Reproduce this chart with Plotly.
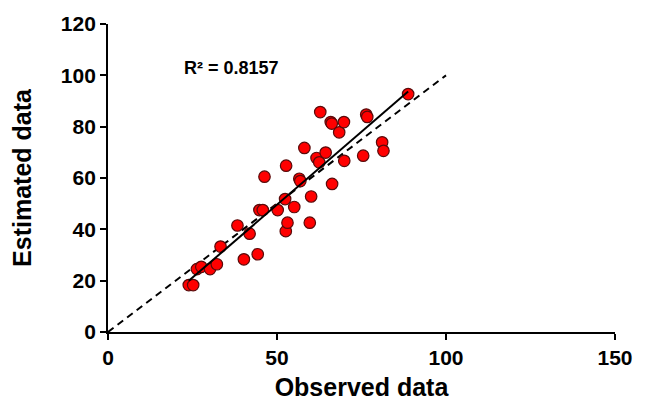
import numpy as np
import plotly.graph_objects as go

# Observed vs. estimated values
observed = [23.9, 25.2, 26.3, 27.6, 30.2, 32.2, 33.3, 38.3, 40.2, 41.9,
            44.3, 44.8, 45.8, 46.3, 50.2, 52.4, 52.6, 53.1, 55.1, 52.7,
            56.6, 56.9, 58.1, 59.7, 60.1, 61.7, 62.5, 62.8, 64.4, 65.9,
            66.2, 66.3, 68.4, 69.8, 69.9, 75.5, 76.4, 76.7, 81.1, 81.5,
            88.8]
estimated = [18.3, 18.3, 24.5, 25.4, 24.5, 26.4, 33.3, 41.5, 28.3, 38.3,
             30.3, 47.5, 47.5, 60.5, 47.5, 51.8, 39.3, 42.6, 48.7, 64.8,
             59.7, 58.8, 71.7, 42.6, 52.8, 67.8, 66.1, 85.7, 69.9, 81.8,
             81.2, 57.7, 77.8, 81.8, 66.7, 68.7, 84.7, 83.8, 73.9, 70.6,
             92.7]

one_to_one = [0, 100]
r2_label = "R² = 0.8157"

x_ticks = [0, 50, 100, 150]
y_ticks = [0, 20, 40, 60, 80, 100, 120]

# Least-squares trend line over the observed range
slope, intercept = np.polyfit(observed, estimated, 1)
trend_x = [min(observed), max(observed)]
trend_y = [slope * v + intercept for v in trend_x]

font_family = "Liberation Sans, Arial, sans-serif"

fig = go.Figure()

fig.add_trace(go.Scatter(
    x=one_to_one, y=one_to_one, mode="lines",
    line=dict(color="black", width=2, dash="7px,5px"),
    hoverinfo="skip", showlegend=False,
))

fig.add_trace(go.Scatter(
    x=observed, y=estimated, mode="markers",
    marker=dict(size=11.5, color="#ff0000",
                line=dict(color="#5a0a0a", width=1.2)),
    showlegend=False, cliponaxis=False,
))

fig.add_trace(go.Scatter(
    x=trend_x, y=trend_y, mode="lines",
    line=dict(color="black", width=2),
    hoverinfo="skip", showlegend=False,
))

fig.add_annotation(
    x=36.5, y=103, xref="x", yref="y", text=r2_label, showarrow=False,
    font=dict(family=font_family, size=18, color="black", weight="bold"),
)

axis_common = dict(
    showgrid=False, zeroline=False, showline=True,
    linecolor="black", linewidth=1.8,
    ticks="outside", ticklen=6, tickwidth=1.8, tickcolor="black",
    tickfont=dict(family=font_family, size=21, color="black", weight="bold"),
)

fig.update_xaxes(
    range=[0, 150], tickvals=x_ticks, **axis_common,
    title=dict(text="Observed data", standoff=10,
               font=dict(family=font_family, size=25, color="black", weight="bold")),
)
fig.update_yaxes(
    range=[0, 120], tickvals=y_ticks, **axis_common,
    title=dict(text="Estimated data", standoff=22,
               font=dict(family=font_family, size=25, color="black", weight="bold")),
)

fig.update_layout(
    width=645, height=409,
    margin=dict(l=108, r=21, t=24, b=76),
    paper_bgcolor="white", plot_bgcolor="white",
)

fig.write_html("out.html")
